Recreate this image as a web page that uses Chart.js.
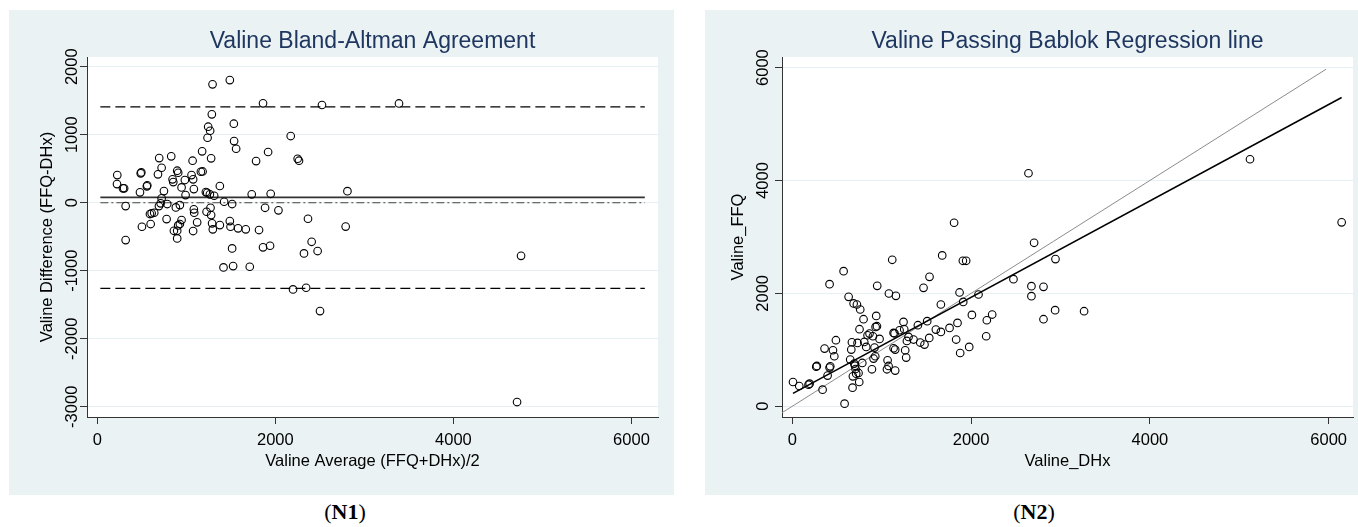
<!DOCTYPE html>
<html><head><meta charset="utf-8">
<script src="https://cdn.jsdelivr.net/npm/chart.js@4.4.1/dist/chart.umd.min.js"></script>
<style>
html,body{margin:0;padding:0;background:#fff;width:1358px;height:527px;overflow:hidden;}
.panel{position:absolute;background:#eaf2f3;}
canvas{position:absolute;left:0;top:0;}
.lab{position:absolute;font-family:'Liberation Serif','Times New Roman',serif;font-size:22px;line-height:26px;color:#000;transform:translateX(-50%);white-space:nowrap;}
.lab b{font-weight:bold;}
</style></head><body>
<div class="panel" style="left:9px;top:10px;width:665px;height:485px;"><canvas id="c1" width="665" height="485"></canvas></div>
<div class="panel" style="left:705px;top:10px;width:653px;height:485px;"><canvas id="c2" width="653" height="485"></canvas></div>
<div class="lab" style="left:345px;top:499px;">(<b>N1</b>)</div>
<div class="lab" style="left:1034px;top:499px;">(<b>N2</b>)</div>
<script>
// ---------- DATA ----------
// Bland-Altman: average (FFQ+DHx)/2 and difference (FFQ-DHx)
const baAverage = [1295,1489,1862,2524,1287,1534,1246,1268,1239,2173,1537,1560,1178,1919,2251,2266,1784,1279,696,831,1071,723,682,898,909,488,495,225,222,289,302,480,562,557,846,854,749,947,984,1059,1077,1085,1164,1183,992,1220,1235,1265,1313,1377,1735,1948,319,723,712,693,786,883,928,640,611,592,502,600,319,779,947,928,909,861,898,898,1085,1089,1122,1077,1228,1272,1279,1290,1298,1377,1425,1515,1489,1497,1582,1668,1817,1885,2035,2367,1515,1862,1941,2408,2322,2475,1418,1526,1713,3389,2810,2790,4760,4715,2199,2346,2502];
const baDifference = [1741,1804,1462,1437,1300,1162,1118,1059,956,981,907,794,756,746,647,618,613,653,657,682,618,515,418,471,441,432,446,407,275,212,212,153,256,241,344,304,172,226,334,407,344,201,456,460,113,157,147,124,103,246,124,132,-49,65,-9,-49,-19,-68,-34,-147,-156,-166,-353,-313,-549,-240,-254,-313,-333,-412,-412,-524,-97,-147,-288,-416,-132,-74,-181,-303,-391,-328,15,-19,-269,-353,-376,-391,-401,-74,-112,-235,-671,-656,-632,-574,-745,-710,-951,-931,-941,1460,170,-350,-780,-2930,-1274,-1250,-1593];
const baMeanDiff = 78;
const baUpperLimit = 1410;
const baLowerLimit = -1260;
const baLineRange = [35, 6150];

// Passing-Bablok: Valine_DHx (x) vs Valine_FFQ (y)
const valineDHx = [8,78,182,194,268,275,339,361,395,417,425,417,455,470,488,574,585,630,648,660,667,674,678,686,693,701,708,715,723,730,741,749,760,752,783,797,805,827,842,864,891,902,920,932,939,947,950,928,909,976,1059,1066,1077,1081,1118,1133,1144,1151,1159,1133,1151,1200,1244,1252,1263,1274,1282,1300,1356,1405,1431,1468,1479,1509,1532,1535,1606,1662,1662,1677,1759,1810,1833,1848,1871,1878,1912,1908,1945,1979,2009,2083,2169,2176,2236,2474,2642,2675,2675,2705,2810,2810,2940,2944,3264,5120,6145];
const valineFFQ = [430,359,383,401,702,714,294,1022,543,685,708,2163,992,886,1170,2394,46,1938,827,1004,1134,330,530,1821,756,720,660,578,1803,1122,590,430,1714,1365,767,1542,1139,1051,1258,1288,655,1240,1040,1406,1601,1418,2133,886,845,1193,655,815,714,1998,2595,1299,1290,632,1956,1028,1004,1347,1494,1365,992,862,1157,1228,1182,1436,1129,2098,1093,1507,1211,2293,1359,1317,1803,2672,1388,3251,1182,1477,2016,944,1849,2577,2577,1051,1619,1980,1240,1524,1625,2252,4128,2128,1950,2896,2116,1542,1702,2607,1684,4376,3258];
const identityRange = [-200, 5970];
const regLineX = [8, 6145];
const regLineY = [228, 5469];

// Axes / ticks
const xTicks = [0, 2000, 4000, 6000];
const baYTicks = [-3000, -2000, -1000, 0, 1000, 2000];
const pbYTicks = [0, 2000, 4000, 6000];
const baRange = {xmin: -115, xmax: 6298, ymin: -3150, ymax: 2143};
const pbRange = {xmin: -115, xmax: 6272, ymin: -190, ymax: 6187};

// ---------- DRAWING ----------
const FONT = "'Liberation Sans', Arial, Helvetica, sans-serif";

function decoPlugin(title, yLabOffset, yTicks) {
  return {
    id: 'deco',
    beforeDraw(chart) {
      const {ctx, chartArea: a} = chart;
      ctx.save();
      ctx.fillStyle = '#ffffff';
      ctx.fillRect(a.left, a.top, a.right - a.left, a.bottom - a.top);
      ctx.restore();
    },
    afterDraw(chart) {
      const {ctx, chartArea: a} = chart;
      const ys = chart.scales.y;
      ctx.save();
      ctx.fillStyle = '#1f3760';
      ctx.font = '23px ' + FONT;
      ctx.textAlign = 'center';
      ctx.textBaseline = 'middle';
      ctx.fillText(title, (a.left + a.right) / 2, 32);
      ctx.fillStyle = '#000';
      ctx.font = '16.5px ' + FONT;
      yTicks.forEach(v => {
        const py = ys.getPixelForValue(v);
        ctx.save();
        ctx.translate(a.left - yLabOffset, py);
        ctx.rotate(-Math.PI / 2);
        ctx.fillText(String(v), 0, 0);
        ctx.restore();
      });
      ctx.restore();
    }
  };
}

function axisOpts(range, yTicks, xTitle, yTitle, yWidth, yTitlePad) {
  return {
    x: {
      type: 'linear', min: range.xmin, max: range.xmax,
      afterBuildTicks: s => { s.ticks = xTicks.map(v => ({value: v})); },
      afterFit: s => { s.height = 78; },
      grid: {drawOnChartArea: false, drawTicks: true, tickLength: 7, tickColor: '#333', lineWidth: 1},
      border: {display: true, color: '#333', width: 1},
      ticks: {color: '#000', font: {family: FONT, size: 16.5}, padding: 7, maxRotation: 0, autoSkip: false, callback: v => String(v)},
      title: {display: true, text: xTitle, color: '#000', font: {family: FONT, size: 16.5}, padding: {top: 0, bottom: 24}}
    },
    y: {
      type: 'linear', min: range.ymin, max: range.ymax,
      afterBuildTicks: s => { s.ticks = yTicks.map(v => ({value: v})); },
      afterFit: s => { s.width = yWidth; },
      grid: {color: '#e6eff1', lineWidth: 1, drawTicks: true, tickLength: 7, tickColor: '#333'},
      border: {display: true, color: '#333', width: 1},
      ticks: {display: false},
      title: {display: true, text: yTitle, color: '#000', font: {family: FONT, size: 16.5}, padding: {top: yTitlePad, bottom: 0}}
    }
  };
}

const pointStyle = {showLine: false, pointRadius: 3.8, pointHoverRadius: 3.8, pointBorderWidth: 1.1, pointBorderColor: '#000', pointBackgroundColor: 'rgba(0,0,0,0)'};
function lineDs(data, color, width, dash) {
  return {data, showLine: true, borderColor: color, borderWidth: width, borderDash: dash, pointRadius: 0, fill: false};
}

// Left: Bland-Altman
new Chart(document.getElementById('c1'), {
  type: 'scatter',
  data: {
    datasets: [
      Object.assign({data: baAverage.map((v, i) => ({x: v, y: baDifference[i]}))}, pointStyle),
      lineDs(baLineRange.map(x => ({x, y: baUpperLimit})), '#000', 1.2, [10, 5]),
      lineDs(baLineRange.map(x => ({x, y: baLowerLimit})), '#000', 1.2, [10, 5]),
      lineDs(baLineRange.map(x => ({x, y: baMeanDiff})), '#333', 1.8, []),
      lineDs(baLineRange.map(x => ({x, y: 0})), '#444', 1, [8, 3, 2, 3])
    ]
  },
  options: {
    responsive: false, animation: false, devicePixelRatio: 1,
    layout: {padding: {left: 0, right: 16, top: 47, bottom: 0}},
    plugins: {legend: {display: false}, tooltip: {enabled: false}},
    scales: axisOpts(baRange, baYTicks, 'Valine Average (FFQ+DHx)/2', 'Valine Difference (FFQ-DHx)', 78, 28.6)
  },
  plugins: [decoPlugin('Valine Bland-Altman Agreement', 14.5, baYTicks)]
});

// Right: Passing-Bablok
new Chart(document.getElementById('c2'), {
  type: 'scatter',
  data: {
    datasets: [
      Object.assign({data: valineDHx.map((v, i) => ({x: v, y: valineFFQ[i]}))}, pointStyle),
      lineDs(regLineX.map((x, i) => ({x, y: regLineY[i]})), '#000', 1.6, []),
      lineDs(identityRange.map(v => ({x: v, y: v})), '#8c8c8c', 1, [])
    ]
  },
  options: {
    responsive: false, animation: false, devicePixelRatio: 1,
    layout: {padding: {left: 0, right: 5, top: 47, bottom: 0}},
    plugins: {legend: {display: false}, tooltip: {enabled: false}},
    scales: axisOpts(pbRange, pbYTicks, 'Valine_DHx', 'Valine_FFQ', 77, 23.6)
  },
  plugins: [decoPlugin('Valine Passing Bablok Regression line', 18.7, pbYTicks)]
});
</script>
</body></html>
